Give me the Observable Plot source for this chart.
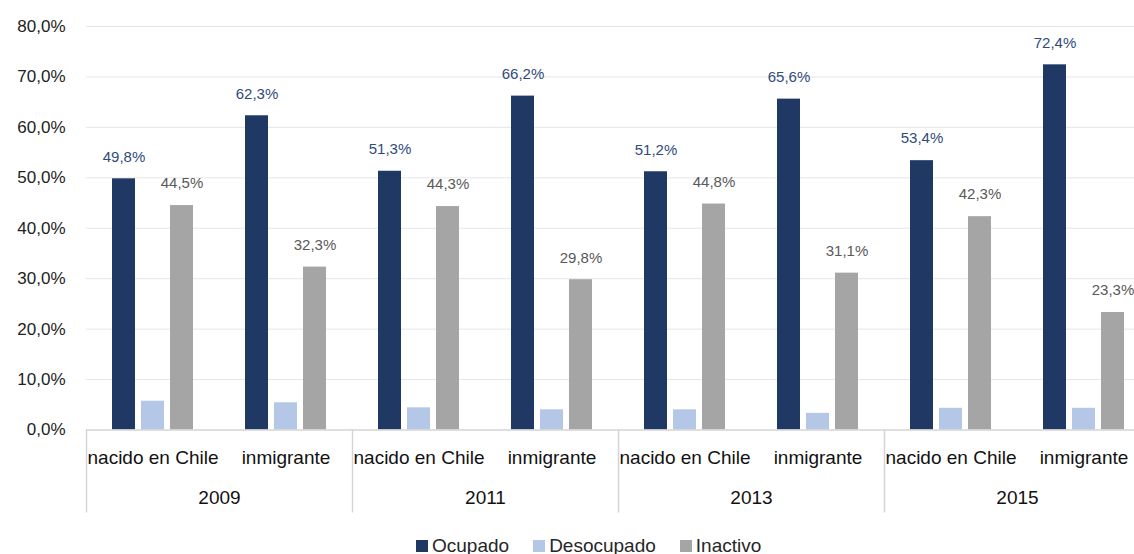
<!DOCTYPE html>
<html>
<head>
<meta charset="utf-8">
<script src="https://cdn.jsdelivr.net/npm/d3@7"></script>
<script src="https://cdn.jsdelivr.net/npm/@observablehq/plot@0.6"></script>
<style>
  html, body { margin: 0; padding: 0; background: #fff; overflow: hidden; width: 1134px; }
  body { font-family: "Liberation Sans", Arial, sans-serif; }
  #chart { width: 1134px; height: 522px; overflow: hidden; }
  #chart svg { display: block; max-width: none !important; width: 1150px !important; height: 522px !important; }
  #legend { width: 1134px; box-sizing: border-box; overflow: hidden; margin-top: 13px; padding-left: 416px; font-size: 19px; line-height: 22px; color: #262626; white-space: nowrap; }
  #legend .item { display: inline-block; margin-right: 24px; }
  #legend .sw { display: inline-block; width: 12px; height: 12px; margin-right: 4px; }
</style>
</head>
<body>
<div id="chart"></div>
<div id="legend"></div>
<script>
// ---- data ----
const years = ["2009", "2011", "2013", "2015"];
const groups = ["nacido en Chile", "inmigrante"];
const series = ["Ocupado", "Desocupado", "Inactivo"];
const ocupado    = [49.8, 62.3, 51.3, 66.2, 51.2, 65.6, 53.4, 72.4];
const desocupado = [5.7, 5.4, 4.4, 4.0, 4.0, 3.3, 4.3, 4.3];
const inactivo   = [44.5, 32.3, 44.3, 29.8, 44.8, 31.1, 42.3, 23.3];
const yTicks = [0, 10, 20, 30, 40, 50, 60, 70, 80];
const colors = ["#1F3864", "#B4C7E7", "#A5A5A5"];

// ---- build table ----
const cells = [];
years.forEach(y => groups.forEach(g => cells.push({year: y, group: g, key: y + "|" + g})));
const rows = [];
cells.forEach((c, i) => {
  rows.push({...c, series: "Ocupado", value: ocupado[i]});
  rows.push({...c, series: "Desocupado", value: desocupado[i]});
  rows.push({...c, series: "Inactivo", value: inactivo[i]});
});
const fmt = v => v.toFixed(1).replace(".", ",") + "%";

const chart = Plot.plot({
  width: 1150,
  height: 522,
  marginLeft: 86,
  marginRight: 0,
  marginTop: 26,
  marginBottom: 92.5,
  style: {fontFamily: "'Liberation Sans', Arial, sans-serif", fontSize: "17px", color: "#222", background: "#fff"},
  fx: {domain: cells.map(c => c.key), padding: 0, axis: null, label: null},
  x: {domain: series, paddingInner: 0.21, paddingOuter: 0.85, axis: null, label: null},
  y: {domain: [0, 80], ticks: yTicks, tickFormat: fmt, tickSize: 0, tickPadding: 21, label: null},
  color: {domain: series, range: colors},
  marks: [
    Plot.ruleY(yTicks.filter(d => d > 0), {stroke: "#e6e6e6", strokeWidth: 1}),
    Plot.barY(rows, {fx: "key", x: "series", y: "value", fill: "series"}),
    Plot.ruleY([0], {stroke: "#d4d4d4", strokeWidth: 1.5}),
    Plot.text(rows.filter(d => d.series === "Ocupado"), {fx: "key", x: "series", y: "value", text: d => fmt(d.value), dy: -22, fill: "#2F4B7C", fontSize: 15}),
    Plot.text(rows.filter(d => d.series === "Inactivo"), {fx: "key", x: "series", y: "value", text: d => fmt(d.value), dy: -22, fill: "#595959", fontSize: 15}),
    Plot.text(cells, {fx: "key", text: "group", frameAnchor: "bottom", lineAnchor: "middle", dy: 28, fontSize: 19, fill: "#111"}),
    Plot.text(cells.filter(c => c.group === groups[0]), {fx: "key", text: "year", frameAnchor: "bottom-right", textAnchor: "middle", lineAnchor: "middle", dy: 68, fontSize: 19, fill: "#111"})
  ]
});
document.getElementById("chart").appendChild(chart);

// separators of the category axis box, positioned with Plot's own scales
const fxS = chart.scale("fx");
const yS = chart.scale("y");
const y0 = yS.apply(0);
const svg = d3.select(chart);
years.forEach(y => {
  const xx = Math.round(fxS.apply(y + "|" + groups[0])) + 0.5;
  svg.append("line").attr("x1", xx).attr("x2", xx).attr("y1", y0).attr("y2", y0 + 83)
    .attr("stroke", "#d4d4d4").attr("stroke-width", 1.5);
});

// legend
const lg = document.getElementById("legend");
series.forEach((s, i) => {
  const it = document.createElement("span");
  it.className = "item";
  const sw = document.createElement("span");
  sw.className = "sw";
  sw.style.background = colors[i];
  it.appendChild(sw);
  it.appendChild(document.createTextNode(s));
  lg.appendChild(it);
});
</script>
</body>
</html>
